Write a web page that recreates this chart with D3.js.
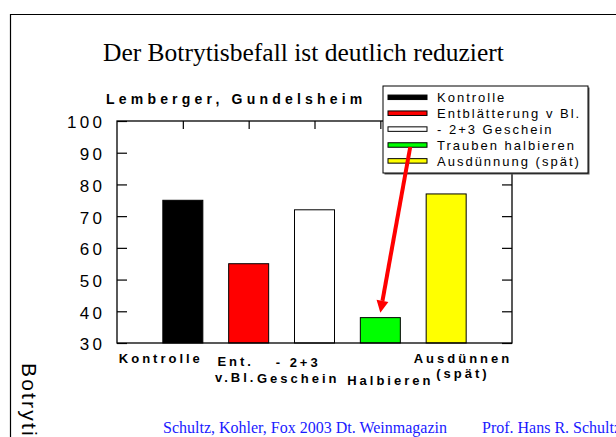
<!DOCTYPE html>
<html><head><meta charset="utf-8">
<script src="https://cdn.jsdelivr.net/npm/d3@7"></script>
<style>html,body{margin:0;padding:0;background:#fff;overflow:hidden}</style>
</head><body>
<svg id="c" width="616" height="437"></svg>
<script>
// ---- data ----
const categories = ["Kontrolle", "Entblätterung v Bl.", "- 2+3 Geschein", "Trauben halbieren", "Ausdünnung (spät)"];
const values = [75, 55, 72, 38, 77];
const axisLabels = [["Kontrolle"], ["Ent.", "v.Bl."], ["- 2+3", "Geschein"], ["Halbieren"], ["Ausdünnen", "(spät)"]];
const yTicks = [30, 40, 50, 60, 70, 80, 90, 100];
const barColors = ["#000000", "#ff0000", "#ffffff", "#00ff00", "#ffff00"];
const title = "Der Botrytisbefall ist deutlich reduziert";
const subtitle = "Lemberger, Gundelsheim";
const yTitle = "Botrytisbefall (%)";
const footerLeft = "Schultz, Kohler, Fox 2003 Dt. Weinmagazin";
const footerRight = "Prof. Hans R. Schultz";
const highlightIndex = 3;

// ---- layout ----
const SANS = "'Liberation Sans', Arial, sans-serif";
const SERIF = "'Liberation Serif', 'Times New Roman', serif";
const plot = {left: 117, right: 512, top: 121, bottom: 343};
const svg = d3.select("#c");

const x = d3.scaleLinear().domain([0, categories.length + 1]).range([plot.left, plot.right]);
const y = d3.scaleLinear().domain([30, 100]).range([plot.bottom, plot.top]);
const barW = 40;

// outer slide frame
svg.append("path").attr("d", "M10.5,437 V14.5 H616").attr("fill", "none").attr("stroke", "#000").attr("stroke-width", 1.2);

// title
svg.append("text").attr("x", 103).attr("y", 61).attr("font-family", SERIF).attr("font-size", 25.5)
  .attr("fill", "#000").text(title);

// subtitle
svg.append("text").attr("x", 106).attr("y", 104).attr("font-family", SANS).attr("font-size", 14)
  .attr("font-weight", "bold").attr("letter-spacing", 4.2).attr("fill", "#000").text(subtitle);

// bars
svg.append("g").selectAll("rect").data(values).join("rect")
  .attr("x", (d, i) => x(i + 1) - barW / 2)
  .attr("y", d => y(d))
  .attr("width", barW)
  .attr("height", d => y(30) - y(d))
  .attr("fill", (d, i) => barColors[i])
  .attr("stroke", "#000").attr("stroke-width", 1);

// axes (ticks only)
const idx = d3.range(1, categories.length + 1);
const gL = svg.append("g").attr("transform", `translate(${plot.left},0)`)
  .call(d3.axisLeft(y).tickValues(yTicks).tickSizeInner(-10).tickSizeOuter(0).tickPadding(11.7));
const gR = svg.append("g").attr("transform", `translate(${plot.right},0)`)
  .call(d3.axisLeft(y).tickValues(yTicks).tickSizeInner(10).tickSizeOuter(0).tickFormat(""));
const gT = svg.append("g").attr("transform", `translate(0,${plot.top})`)
  .call(d3.axisBottom(x).tickValues(idx).tickSizeInner(8).tickSizeOuter(0).tickFormat(""));
[gL, gR, gT].forEach(g => {
  g.select(".domain").remove();
  g.selectAll("line").attr("stroke", "#000").attr("stroke-width", 1.2);
});
gL.selectAll("text").attr("font-family", SANS).attr("font-size", 17).attr("letter-spacing", 3.3)
  .attr("fill", "#000").attr("dy", "0.41em");

// plot frame
svg.append("rect").attr("x", plot.left).attr("y", plot.top)
  .attr("width", plot.right - plot.left).attr("height", plot.bottom - plot.top)
  .attr("fill", "none").attr("stroke", "#000").attr("stroke-width", 1.3);

// category labels
const labelLayout = [
  {dx: -23.5, ys: [363]},
  {dx: -14.5, ys: [366, 382]},
  {dx: -17.8, ys: [367, 383]},
  {dx: 8.5, ys: [385]},
  {dx: 15.3, ys: [363, 378]}
];
const gX = svg.append("g");
axisLabels.forEach((lines, i) => {
  lines.forEach((t, j) => {
    gX.append("text").attr("x", x(i + 1) + labelLayout[i].dx + 1.5).attr("y", labelLayout[i].ys[j])
      .attr("text-anchor", "middle").attr("font-family", SANS).attr("font-size", 13)
      .attr("font-weight", "bold").attr("letter-spacing", 3).attr("fill", "#000").text(t);
  });
});

// rotated y title (cut off by page bottom)
svg.append("text").attr("transform", "translate(22,363) rotate(90)")
  .attr("font-family", SANS).attr("font-size", 21).attr("letter-spacing", 2.2)
  .attr("fill", "#000").text(yTitle);

// footer
svg.append("text").attr("x", 163).attr("y", 433).attr("font-family", SERIF).attr("font-size", 16)
  .attr("fill", "#1a1aff").text(footerLeft);
svg.append("text").attr("x", 482).attr("y", 433).attr("font-family", SERIF).attr("font-size", 16)
  .attr("fill", "#1a1aff").text(footerRight);

// legend
const lg = {x: 383, y: 86, w: 205, h: 87, row0: 97.3, rowH: 15.9, swX: 388, swW: 39, swH: 4.5, txX: 437};
svg.append("rect").attr("x", lg.x + 1.5).attr("y", lg.y + 1.5).attr("width", lg.w).attr("height", lg.h)
  .attr("fill", "#555");
svg.append("rect").attr("x", lg.x).attr("y", lg.y).attr("width", lg.w).attr("height", lg.h)
  .attr("fill", "#fff").attr("stroke", "#000").attr("stroke-width", 1);
const rows = svg.append("g").selectAll("g").data(categories).join("g")
  .attr("transform", (d, i) => `translate(0,${lg.row0 + i * lg.rowH})`);
rows.append("rect").attr("x", lg.swX).attr("y", -lg.swH / 2).attr("width", lg.swW).attr("height", lg.swH)
  .attr("fill", (d, i) => barColors[i]).attr("stroke", "#000").attr("stroke-width", 1);
rows.append("text").attr("x", lg.txX).attr("y", 5).attr("font-family", SANS).attr("font-size", 13)
  .attr("letter-spacing", 2).attr("fill", "#000").text(d => d);

// red arrow from legend entry to highlighted bar
const sx = lg.swX + lg.swW * 0.57, sy = lg.row0 + highlightIndex * lg.rowH + 2;
const tx = x(highlightIndex + 1), ty = y(values[highlightIndex]) - 5;
const ang = Math.atan2(ty - sy, tx - sx);
const headL = 12, headW = 6;
const bx = tx - headL * Math.cos(ang), by = ty - headL * Math.sin(ang);
svg.append("line").attr("x1", sx).attr("y1", sy).attr("x2", bx).attr("y2", by)
  .attr("stroke", "#ff0000").attr("stroke-width", 4);
const px = -Math.sin(ang), py = Math.cos(ang);
svg.append("path")
  .attr("d", `M${tx},${ty} L${bx + px * headW},${by + py * headW} L${bx - px * headW},${by - py * headW} Z`)
  .attr("fill", "#ff0000");
</script>
</body></html>
